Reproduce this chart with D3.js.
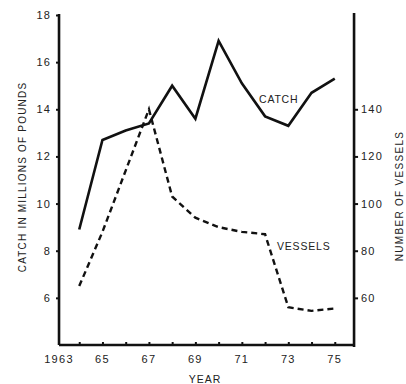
<!DOCTYPE html>
<html>
<head>
<meta charset="utf-8">
<script src="https://cdn.jsdelivr.net/npm/d3@7"></script>
<style>
  html, body { margin: 0; padding: 0; background: #fff; }
  text { font-family: "Liberation Sans", Arial, sans-serif; fill: #222; }
</style>
</head>
<body>
<div id="root"></div>
<script>
const years = [1964, 1965, 1966, 1967, 1968, 1969, 1970, 1971, 1972, 1973, 1974, 1975];
const catchValues = [8.9, 12.7, 13.1, 13.4, 15.0, 13.6, 16.9, 15.1, 13.7, 13.3, 14.7, 15.3];
const vesselValues = [65, 88, 114, 140, 103, 94, 90, 88, 87, 56, 54.5, 55.5];
const yearTicks = [1963, 1965, 1967, 1969, 1971, 1973, 1975];
const catchTicks = [6, 8, 10, 12, 14, 16, 18];
const vesselTicks = [60, 80, 100, 120, 140];

const width = 406;
const height = 384;
const xStart = 1963.13, xEnd = 1975.83;

const svg = d3.select("#root")
  .append("svg")
    .attr("width", width)
    .attr("height", height);

const x = d3.scaleLinear().domain([1963, 1976]).range([56, 358]);
const yCatch = d3.scaleLinear().domain([4, 18]).range([345, 15]);
const yVessels = d3.scaleLinear().domain([40, 180]).range([345, 15]);

const left = x(xStart), right = x(xEnd), bottom = yCatch(4);

// axes
const axisG = svg.append("g");

axisG.append("g")
  .attr("transform", "translate(" + left + ",0)")
  .call(d3.axisLeft(yCatch).tickValues(catchTicks).tickSize(3).tickPadding(5).tickFormat(d3.format("d")))
  .call(g => g.select(".domain").attr("d", `M0,${yCatch(18) - 1}V${bottom}`));

axisG.append("g")
  .attr("transform", "translate(" + right + ",0)")
  .call(d3.axisRight(yVessels).tickValues(vesselTicks).tickSize(4).tickPadding(3).tickFormat(d3.format("d")))
  .call(g => g.select(".domain").attr("d", `M0,13V${bottom + 2}`));

axisG.append("g")
  .attr("transform", "translate(0," + bottom + ")")
  .call(d3.axisBottom(x).tickValues(d3.range(1964, 1976)).tickSize(-3).tickFormat(""))
  .call(g => g.select(".domain").attr("d", `M${left},0H${right}`));

axisG.append("g")
  .selectAll("text")
  .data(yearTicks)
  .join("text")
    .attr("x", d => x(d) + (d === 1963 ? 3 : 0))
    .attr("y", 363)
    .attr("text-anchor", "middle")
    .attr("font-size", 11)
    .attr("letter-spacing", 1.3)
    .text(d => d === 1963 ? "1963" : String(d).slice(2));

axisG.selectAll(".domain").attr("stroke", "#111").attr("stroke-width", 2.6);
axisG.selectAll(".tick line").attr("stroke", "#111").attr("stroke-width", 2);
axisG.selectAll(".tick text").attr("font-size", 11).attr("fill", "#222")
  .attr("font-family", "Liberation Sans, Arial, sans-serif").attr("letter-spacing", 1.2);

// titles
svg.append("text")
  .attr("transform", "translate(26,177) rotate(-90)")
  .attr("text-anchor", "middle")
  .attr("font-size", 10)
  .attr("letter-spacing", 1.2)
  .text("CATCH IN MILLIONS OF POUNDS");

svg.append("text")
  .attr("transform", "translate(403,196) rotate(-90)")
  .attr("text-anchor", "middle")
  .attr("font-size", 10)
  .attr("letter-spacing", 1.3)
  .text("NUMBER OF VESSELS");

svg.append("text")
  .attr("x", 205)
  .attr("y", 383)
  .attr("text-anchor", "middle")
  .attr("font-size", 10.5)
  .attr("letter-spacing", 1)
  .text("YEAR");

// lines
const catchLine = d3.line()
  .x((d, i) => x(years[i]))
  .y(d => yCatch(d));

const vesselLine = d3.line()
  .x((d, i) => x(years[i]))
  .y(d => yVessels(d));

svg.append("path")
  .datum(catchValues)
  .attr("d", catchLine)
  .attr("fill", "none")
  .attr("stroke", "#111")
  .attr("stroke-width", 2.6)
  .attr("stroke-linejoin", "miter");

svg.append("path")
  .datum(vesselValues)
  .attr("d", vesselLine)
  .attr("fill", "none")
  .attr("stroke", "#111")
  .attr("stroke-width", 2.4)
  .attr("stroke-dasharray", "6,4");

// series labels
svg.append("text")
  .attr("x", 259)
  .attr("y", 103)
  .attr("font-size", 10.5)
  .attr("letter-spacing", 0.8)
  .text("CATCH");

svg.append("text")
  .attr("x", 277)
  .attr("y", 250)
  .attr("font-size", 10.5)
  .attr("letter-spacing", 0.8)
  .text("VESSELS");
</script>
</body>
</html>
